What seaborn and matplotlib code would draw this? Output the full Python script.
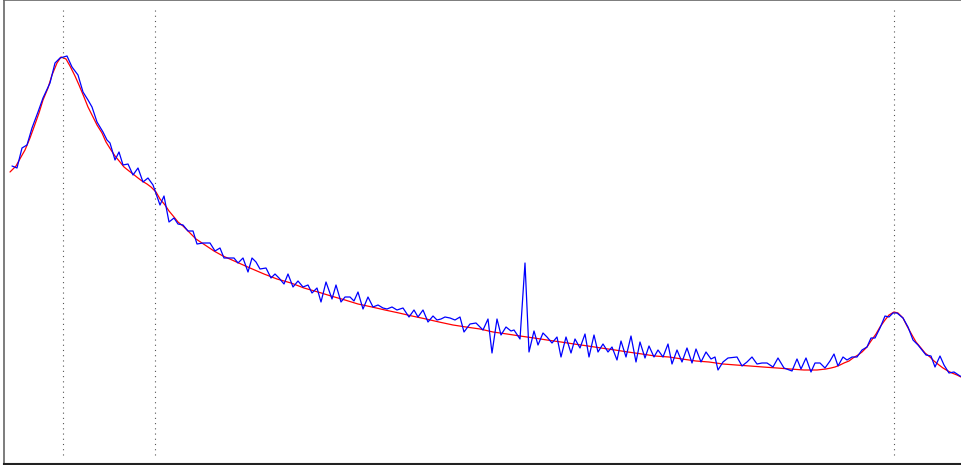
import numpy as np
import matplotlib.pyplot as plt
import seaborn as sns

# measured spectrum (blue) - channel position and intensity
raw_x = [12, 17, 22, 27, 32, 38, 43, 50, 55, 60, 67, 72, 78, 83, 88, 92, 97, 103, 107, 110,
         115, 119, 123, 128, 133, 138, 143, 148, 153, 160, 164, 169, 174, 178, 183, 188, 193, 197, 203, 210,
         215, 220, 224, 230, 234, 238, 243, 248, 252, 256, 260, 266, 271, 275, 279, 284, 288, 293, 298, 303,
         308, 312, 317, 321, 326, 332, 336, 341, 345, 350, 354, 358, 363, 368, 373, 378, 383, 387, 392, 397,
         403, 409, 414, 418, 423, 428, 433, 437, 441, 445, 450, 455, 460, 464, 470, 476, 483, 488, 492, 497,
         501, 506, 511, 514, 520, 525, 529, 534, 538, 543, 547, 552, 557, 561, 566, 571, 575, 580, 585, 589,
         594, 598, 603, 608, 612, 617, 621, 626, 631, 636, 640, 645, 649, 654, 658, 663, 668, 672, 677, 682,
         687, 692, 696, 701, 706, 711, 715, 718, 723, 728, 737, 742, 747, 752, 757, 762, 767, 773, 778, 784,
         792, 797, 801, 806, 811, 815, 820, 825, 830, 834, 838, 843, 847, 852, 857, 862, 867, 871, 875, 880,
         885, 889, 893, 897, 903, 908, 913, 918, 922, 926, 931, 935, 940, 944, 949, 954, 960, 965]
raw_y = [304, 302, 322, 325, 342, 358, 372, 387, 407, 412, 414, 403, 395, 378, 370, 363, 348, 338, 330, 327,
         310, 318, 305, 306, 295, 302, 288, 292, 285, 265, 274, 248, 252, 246, 245, 239, 239, 226, 227, 227,
         219, 222, 212, 212, 212, 207, 212, 198, 212, 208, 201, 202, 192, 196, 192, 186, 196, 183, 189, 183,
         185, 177, 182, 168, 188, 171, 185, 168, 173, 173, 169, 178, 161, 173, 163, 165, 162, 161, 163, 160,
         162, 153, 160, 153, 160, 148, 154, 150, 151, 153, 152, 150, 153, 138, 146, 147, 140, 151, 117, 151,
         135, 143, 139, 140, 131, 207, 118, 139, 125, 137, 133, 127, 133, 113, 133, 117, 131, 122, 136, 113,
         135, 118, 126, 118, 123, 110, 129, 113, 134, 108, 128, 112, 124, 113, 120, 113, 126, 106, 120, 108,
         122, 107, 121, 108, 118, 111, 113, 100, 108, 112, 113, 104, 108, 113, 106, 107, 107, 103, 112, 102,
         99, 111, 101, 112, 98, 107, 107, 102, 109, 116, 104, 113, 110, 113, 113, 120, 123, 132, 132, 142,
         154, 153, 157, 157, 152, 143, 130, 125, 120, 115, 114, 103, 114, 105, 97, 98, 94, 92]

# fitted curve (red)
fit_x = [10, 16, 21, 25, 30, 34, 39, 43, 48, 52, 57, 61, 66, 70, 75, 79, 84, 88, 93, 97,
         102, 106, 111, 115, 120, 124, 129, 133, 138, 142, 147, 151, 156, 160, 165, 169, 174, 178, 183, 187,
         192, 196, 205, 214, 223, 232, 241, 250, 264, 277, 291, 304, 318, 331, 345, 358, 372, 385, 399, 412,
         426, 439, 453, 466, 480, 493, 507, 520, 534, 547, 561, 574, 588, 601, 615, 628, 642, 655, 669, 682,
         696, 709, 723, 736, 750, 763, 777, 790, 804, 817, 826, 831, 835, 840, 844, 849, 853, 858, 862, 867,
         871, 876, 880, 885, 889, 894, 898, 903, 907, 912, 916, 921, 925, 930, 934, 939, 943, 948, 952, 957,
         961, 966]
fit_y = [298, 304, 313, 320, 332, 343, 357, 370, 382, 395, 407, 413, 411, 404, 394, 385, 373, 363, 353, 345,
         337, 328, 320, 314, 308, 303, 299, 296, 292, 289, 286, 283, 278, 271, 265, 259, 253, 248, 244, 240,
         235, 231, 225, 219, 214, 210, 206, 202, 196, 191, 187, 182, 178, 174, 170, 166, 163, 160, 157, 154,
         151, 148, 145, 143, 141, 138, 136, 134, 132, 130, 128, 126, 124, 122, 120, 118, 116, 114, 113, 111,
         109, 108, 106, 105, 104, 103, 102, 101, 100, 100, 101, 102, 103, 105, 107, 109, 112, 115, 118, 123,
         129, 136, 143, 150, 155, 158, 157, 152, 144, 135, 128, 122, 117, 113, 109, 105, 102, 99, 97, 95,
         93, 91]

# marked peak positions
markers = [63, 155, 894]

sns.set_style("white")
fig = plt.figure(figsize=(9.61, 4.65), dpi=100)
ax = fig.add_axes([3.5 / 961, 1.5 / 465, 1.0, 463 / 465])

sns.lineplot(x=fit_x, y=fit_y, ax=ax, color="red", lw=0.9, estimator=None, sort=False)
sns.lineplot(x=raw_x, y=raw_y, ax=ax, color="blue", lw=0.9, estimator=None, sort=False)
ax.vlines(markers, 15, 460, colors="#555555", linestyles=(0, (1, 3.7)), lw=0.8)

ax.set_xlim(3.5, 964.5)
ax.set_ylim(6.5, 469.5)
ax.set_xticks([])
ax.set_yticks([])
ax.set_xlabel("")
ax.set_ylabel("")
for name, s in ax.spines.items():
    s.set_color("#666666")
    s.set_linewidth(1.2)
ax.spines["bottom"].set_color("#222222")
ax.spines["bottom"].set_linewidth(1.5)

fig.savefig("out.png", dpi=100)
